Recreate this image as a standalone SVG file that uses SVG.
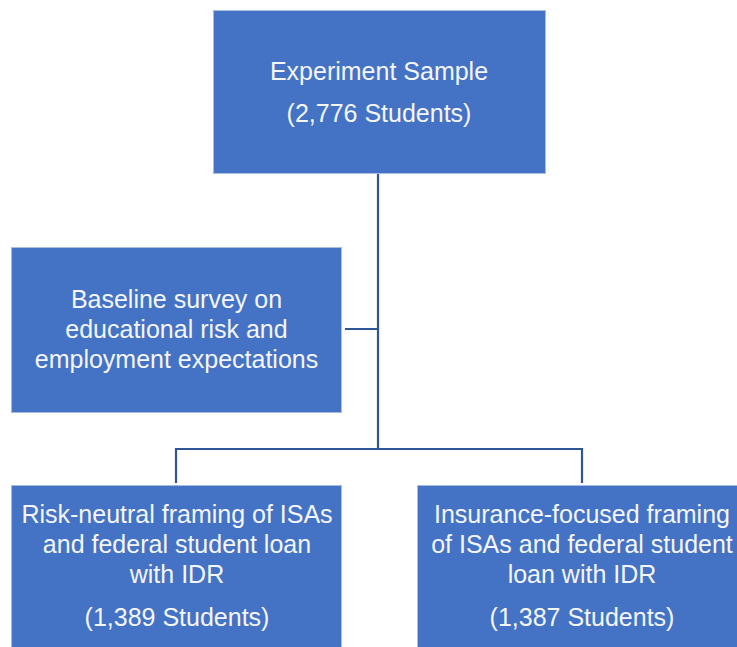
<svg xmlns="http://www.w3.org/2000/svg" width="737" height="647" viewBox="0 0 737 647">
<style>
.box{fill:#4472C4;stroke:#A9BDE4;stroke-width:1}
.t{font-family:"Liberation Sans",Arial,sans-serif;font-size:25px;fill:#F4F6FB;text-anchor:middle}
.c{fill:none;stroke:#2F5597;stroke-width:2.2}
</style>
<rect width="737" height="647" fill="#FFFFFF"/>
<g id="connectors">
<path class="c" d="M378,174 V449"/>
<path class="c" d="M345,329 H378"/>
<path class="c" d="M176,449 H582"/>
<path class="c" d="M176,448 V483"/>
<path class="c" d="M582,448 V483"/>
</g>
<g id="sample">
<rect class="box" x="213.5" y="10.5" width="332" height="163"/>
<text class="t" x="379" y="80">Experiment Sample</text>
<text class="t" x="379" y="122">(2,776 Students)</text>
</g>
<g id="baseline">
<rect class="box" x="11.5" y="247.5" width="330" height="165"/>
<text class="t" x="176.5" y="308">Baseline survey on</text>
<text class="t" x="176.5" y="338">educational risk and</text>
<text class="t" x="176.5" y="368">employment expectations</text>
</g>
<g id="riskneutral">
<rect class="box" x="11.5" y="485.5" width="330" height="170"/>
<text class="t" x="177" y="523">Risk-neutral framing of ISAs</text>
<text class="t" x="177" y="553">and federal student loan</text>
<text class="t" x="177" y="583">with IDR</text>
<text class="t" x="177" y="626">(1,389 Students)</text>
</g>
<g id="insurance">
<rect class="box" x="417.5" y="485.5" width="330" height="170"/>
<text class="t" x="582" y="523">Insurance-focused framing</text>
<text class="t" x="582" y="553">of ISAs and federal student</text>
<text class="t" x="582" y="583">loan with IDR</text>
<text class="t" x="582" y="626">(1,387 Students)</text>
</g>
</svg>
